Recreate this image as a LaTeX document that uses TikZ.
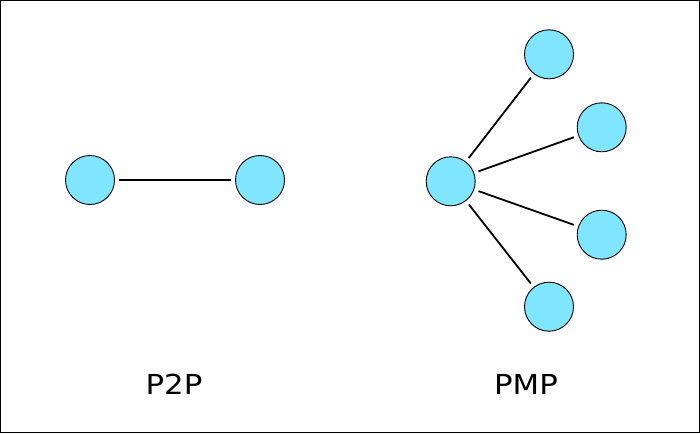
\documentclass[tikz,border=0pt]{standalone}
\usepackage{fontspec}
\usepackage{graphicx}
\setmainfont{DejaVu Sans}
\definecolor{nodeblue}{RGB}{128,229,255}
\begin{document}
\begin{tikzpicture}[x=1pt,y=-1pt,
  peer/.style={circle,draw=black,line width=0.9pt,fill=nodeblue,minimum size=49pt,inner sep=0pt},
  link/.style={line width=1.8pt,shorten <=4.5pt,shorten >=4.5pt},
  caption/.style={font=\fontsize{27.5}{32}\selectfont,text=black,inner sep=0pt}]
\draw[line width=1.2pt] (0.6,0.6) rectangle (699.4,432.4);
\useasboundingbox (0,0) rectangle (700,433);
% P2P
\node[peer] (a) at (90,180) {};
\node[peer] (b) at (260,180) {};
\draw[link] (a) -- (b);
\node[caption] (p2p) at (174,384.3) {\scalebox{1.12}[1]{P2P}};
% PMP
\node[peer] (hub) at (450.7,181.3) {};
\node[peer] (n1) at (549,54.3) {};
\node[peer] (n2) at (601.7,127.3) {};
\node[peer] (n3) at (601.7,234.7) {};
\node[peer] (n4) at (549,306.7) {};
\draw[link] (hub) -- (n1);
\draw[link] (hub) -- (n2);
\draw[link] (hub) -- (n3);
\draw[link] (hub) -- (n4);
\node[caption] (pmp) at (526,384.3) {\scalebox{1.12}[1]{PMP}};
\end{tikzpicture}
\end{document}
